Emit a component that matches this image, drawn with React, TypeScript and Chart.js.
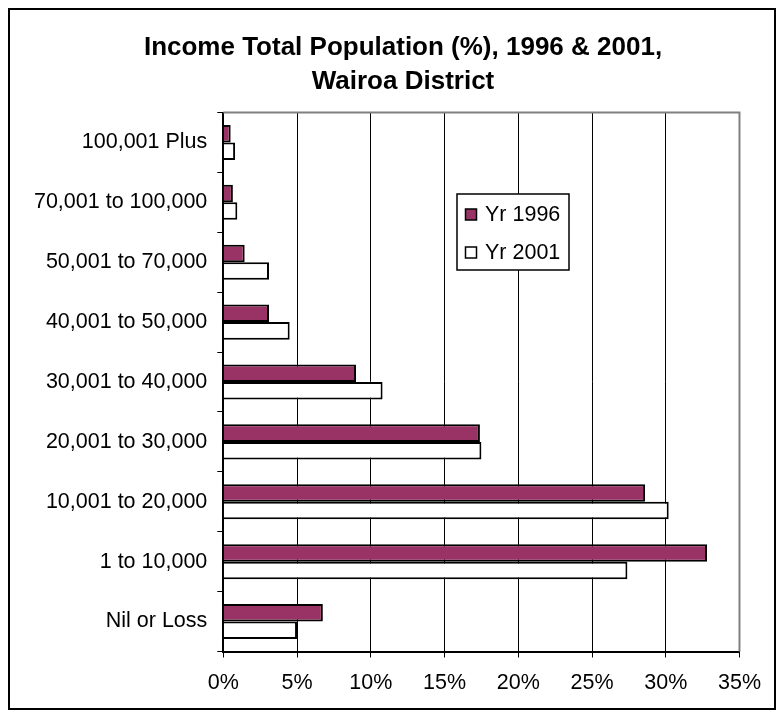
import React, { useEffect, useRef } from "react";
import { Chart, registerables } from "chart.js";

Chart.register(...registerables);

const categories = [
  "100,001 Plus",
  "70,001 to 100,000",
  "50,001 to 70,000",
  "40,001 to 50,000",
  "30,001 to 40,000",
  "20,001 to 30,000",
  "10,001 to 20,000",
  "1 to 10,000",
  "Nil or Loss",
];
const yr1996 = [0.5, 0.65, 1.45, 3.1, 9.0, 17.4, 28.6, 32.8, 6.75];
const yr2001 = [0.8, 0.95, 3.1, 4.5, 10.8, 17.5, 30.2, 27.4, 5.0];
const seriesLabels = ["Yr 1996", "Yr 2001"];
const titleLines = ["Income Total Population (%), 1996 & 2001,", "Wairoa District"];

const FONT = '"Liberation Sans", Arial, sans-serif';
const PLUM = "#993366";

const W = 764;
const H = 698;

const decorPlugin = {
  id: "decor",
  afterDraw(chart: any) {
    const ctx = chart.ctx;
    const a = chart.chartArea;
    ctx.save();
    // plot-area border (top & right) in grey
    ctx.strokeStyle = "#808080";
    ctx.lineWidth = 2;
    ctx.beginPath();
    ctx.moveTo(a.left, a.top);
    ctx.lineTo(a.right, a.top);
    ctx.lineTo(a.right, a.bottom);
    ctx.stroke();

    // title
    ctx.fillStyle = "#000";
    ctx.font = `bold 26px ${FONT}`;
    ctx.textAlign = "center";
    ctx.textBaseline = "alphabetic";
    ctx.fillText(titleLines[0], 393, 44.5);
    ctx.fillText(titleLines[1], 393, 78.5);

    // legend
    const lx = 447, ly = 184, lw = 112, lh = 76;
    ctx.fillStyle = "#fff";
    ctx.fillRect(lx, ly, lw, lh);
    ctx.strokeStyle = "#000";
    ctx.lineWidth = 1.5;
    ctx.strokeRect(lx, ly, lw, lh);
    ctx.font = `21.5px ${FONT}`;
    ctx.textAlign = "left";
    ctx.textBaseline = "middle";
    chart.data.datasets.forEach((ds: any, i: number) => {
      const cy = 204 + i * 38;
      ctx.fillStyle = ds.backgroundColor;
      ctx.fillRect(455.5, cy - 5, 11, 11);
      ctx.strokeStyle = "#000";
      ctx.lineWidth = 1.5;
      ctx.strokeRect(455.5, cy - 5, 11, 11);
      ctx.fillStyle = "#000";
      ctx.fillText(ds.label, 475, cy + 1);
    });
    ctx.restore();
  },
};

export default function App() {
  const ref = useRef<HTMLCanvasElement | null>(null);

  useEffect(() => {
    if (!ref.current) return;
    const chart = new Chart(ref.current, {
      type: "bar",
      data: {
        labels: categories,
        datasets: [
          {
            label: seriesLabels[0],
            data: yr1996,
            backgroundColor: PLUM,
            borderColor: "#000",
            borderWidth: 2,
            barPercentage: 1,
            categoryPercentage: 0.585,
          },
          {
            label: seriesLabels[1],
            data: yr2001,
            backgroundColor: "#ffffff",
            borderColor: "#000",
            borderWidth: 2,
            barPercentage: 1,
            categoryPercentage: 0.585,
          },
        ],
      },
      options: {
        indexAxis: "y",
        responsive: false,
        animation: false,
        devicePixelRatio: 1,
        layout: { padding: { top: 102.5, right: 32, left: 0, bottom: 0 } },
        plugins: {
          legend: { display: false },
          title: { display: false },
          tooltip: { enabled: false },
        },
        scales: {
          y: {
            type: "category",
            afterFit: (s: any) => {
              s.width = 213.3;
            },
            grid: {
              drawOnChartArea: false,
              drawTicks: true,
              tickLength: 6,
              color: "#000",
              lineWidth: 1,
              offset: true,
            },
            border: { color: "#000", width: 2 },
            ticks: {
              color: "#000",
              font: { size: 21.5, family: FONT },
              padding: 10,
              autoSkip: false,
            },
          },
          x: {
            type: "linear",
            min: 0,
            max: 35,
            afterFit: (s: any) => {
              s.height = 56.5;
            },
            grid: {
              color: "#000",
              lineWidth: 1,
              tickLength: 6,
              drawTicks: true,
            },
            border: { color: "#000", width: 2 },
            ticks: {
              stepSize: 5,
              color: "#000",
              font: { size: 21.5, family: FONT },
              padding: 13,
              callback: (v: any) => `${v}%`,
            },
          },
        },
      } as any,
      plugins: [decorPlugin],
    });
    return () => chart.destroy();
  }, []);

  return (
    <div
      style={{
        width: 768,
        height: 702,
        border: "2px solid #000",
        boxSizing: "border-box",
        position: "relative",
        background: "#fff",
      }}
    >
      <canvas ref={ref} width={W} height={H} style={{ display: "block", width: W, height: H }} />
    </div>
  );
}
